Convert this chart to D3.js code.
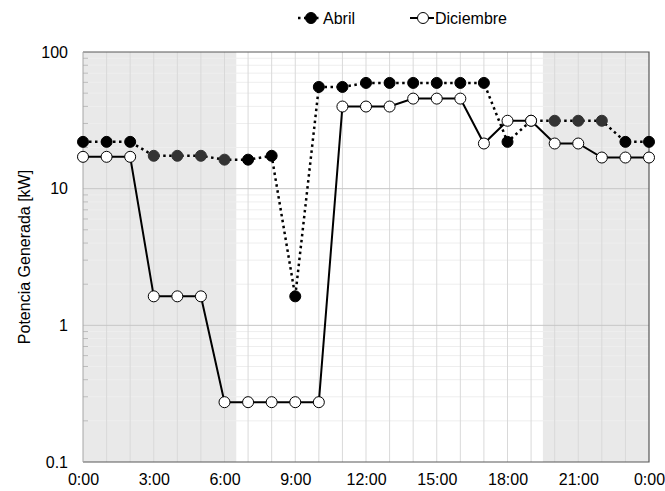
<!DOCTYPE html>
<html>
<head>
<meta charset="utf-8">
<script src="https://cdn.jsdelivr.net/npm/d3@7"></script>
<style>
  body { margin: 0; background: #fff; }
  text { font-family: "Liberation Sans", Arial, sans-serif; fill: #000; }
</style>
</head>
<body>
<div id="chart"></div>
<script>
/*** DATA ***/
const hours = d3.range(0, 25);
const xTickHours = [0, 3, 6, 9, 12, 15, 18, 21, 24];
const xTickLabels = ['0:00', '3:00', '6:00', '9:00', '12:00', '15:00', '18:00', '21:00', '0:00'];
const yTicks = [0.1, 1, 10, 100];
const yTickLabels = ['0.1', '1', '10', '100'];
const abril = [22, 22, 22, 17.4, 17.4, 17.4, 16.3, 16.3, 17.4, 1.63, 55.5, 55.5, 59.4, 59.4, 59.4,
               59.4, 59.4, 59.4, 22, 31.4, 31.4, 31.4, 31.4, 22, 22];
const diciembre = [17.1, 17.1, 17.1, 1.63, 1.63, 1.63, 0.274, 0.274, 0.274, 0.274, 0.274, 39.9, 39.9,
                   39.9, 45.6, 45.6, 45.6, 21.4, 31.4, 31.4, 21.4, 21.4, 16.9, 16.9, 16.9];
const nightBands = [[0, 6.5], [19.5, 24]];
const seriesNames = ['Abril', 'Diciembre'];

/*** GRAPH ***/
const width = 665, height = 491;
const margin = {top: 52, right: 16, bottom: 29, left: 83};
const w = width - margin.left - margin.right;
const h = height - margin.top - margin.bottom;

const svg = d3.select('#chart').append('svg')
    .attr('width', width).attr('height', height);
const g = svg.append('g').attr('transform', 'translate(' + margin.left + ',' + margin.top + ')');

const x = d3.scaleLinear().domain([0, 24]).range([0, w]);
const y = d3.scaleLog().domain([0.1, 100]).range([h, 0]);

// shaded night bands
g.selectAll('.band').data(nightBands).enter().append('rect')
    .attr('x', d => x(d[0])).attr('width', d => x(d[1]) - x(d[0]))
    .attr('y', 0).attr('height', h)
    .attr('fill', '#e9e9e9');

// minor horizontal grid
const minor = [];
[0.1, 1, 10].forEach(dec => { for (let k = 2; k <= 9; k++) minor.push(dec * k); });
g.selectAll('.minor').data(minor).enter().append('line')
    .attr('x1', 0).attr('x2', w)
    .attr('y1', d => y(d)).attr('y2', d => y(d))
    .attr('stroke', '#eeeeee').attr('stroke-width', 1);
g.selectAll('.minortick').data(minor).enter().append('line')
    .attr('x1', 0).attr('x2', 5)
    .attr('y1', d => y(d)).attr('y2', d => y(d))
    .attr('stroke', '#bbbbbb').attr('stroke-width', 1);

// vertical grid
g.selectAll('.vgrid').data(hours.slice(1, 24)).enter().append('line')
    .attr('x1', d => x(d)).attr('x2', d => x(d))
    .attr('y1', 0).attr('y2', h)
    .attr('stroke', '#d9d9d9').attr('stroke-width', 1);

// major horizontal grid
g.selectAll('.major').data([1, 10]).enter().append('line')
    .attr('x1', 0).attr('x2', w)
    .attr('y1', d => y(d)).attr('y2', d => y(d))
    .attr('stroke', '#c6c6c6').attr('stroke-width', 1);

// frame
g.append('path')
    .attr('d', 'M0,0H' + w + 'V' + h + 'H0')
    .attr('fill', 'none').attr('stroke', '#595959').attr('stroke-width', 1.2);
g.append('line').attr('x1', 0).attr('x2', 0).attr('y1', 0).attr('y2', h)
    .attr('stroke', '#a6a6a6').attr('stroke-width', 1);

// axes
const xAxis = g.append('g').attr('transform', 'translate(0,' + h + ')')
    .call(d3.axisBottom(x).tickValues(xTickHours).tickSize(0).tickPadding(12)
        .tickFormat((d, i) => xTickLabels[i]));
const yAxis = g.append('g')
    .call(d3.axisLeft(y).tickValues(yTicks).tickSize(0).tickPadding(15)
        .tickFormat((d, i) => yTickLabels[i]));
[xAxis, yAxis].forEach(a => {
    a.select('.domain').remove();
    a.selectAll('text').attr('font-size', 16).style('font-family', '"Liberation Sans", Arial, sans-serif');
});

svg.append('text')
    .attr('transform', 'translate(24,' + (margin.top + h / 2) + ') rotate(-90)')
    .attr('text-anchor', 'middle').attr('dominant-baseline', 'central')
    .attr('font-size', 16)
    .text('Potencia Generada [kW]');

// lines
const line = d3.line().x((d, i) => x(hours[i])).y(d => y(d));
g.append('path').datum(abril).attr('d', line)
    .attr('fill', 'none').attr('stroke', '#000').attr('stroke-width', 2.5)
    .attr('stroke-dasharray', '2.5,3.5');
g.append('path').datum(diciembre).attr('d', line)
    .attr('fill', 'none').attr('stroke', '#000').attr('stroke-width', 2);

// markers (Abril points inside the night bands are drawn a little lighter)
const greyDot = hr => (hr >= 3 && hr <= 6) || (hr >= 19 && hr <= 22);
g.selectAll('.dotA').data(abril).enter().append('circle')
    .attr('cx', (d, i) => x(hours[i])).attr('cy', d => y(d)).attr('r', 5.5)
    .attr('fill', (d, i) => greyDot(hours[i]) ? '#333333' : '#000')
    .attr('stroke', (d, i) => greyDot(hours[i]) ? '#333333' : '#000');
g.selectAll('.dotD').data(diciembre).enter().append('circle')
    .attr('cx', (d, i) => x(hours[i])).attr('cy', d => y(d)).attr('r', 5.5)
    .attr('fill', '#fff').attr('stroke', '#000').attr('stroke-width', 1);

// legend
const legend = svg.append('g').attr('transform', 'translate(0,18)');
const legItems = [{x: 298, dash: '2.5,3.5', fill: '#000'}, {x: 410, dash: null, fill: '#fff'}];
legItems.forEach((it, i) => {
    legend.append('line').attr('x1', it.x).attr('x2', it.x + 24).attr('y1', 0).attr('y2', 0)
        .attr('stroke', '#000').attr('stroke-width', i === 0 ? 2.5 : 2)
        .attr('stroke-dasharray', it.dash);
    legend.append('circle').attr('cx', it.x + 13).attr('cy', 0).attr('r', 5.5)
        .attr('fill', it.fill).attr('stroke', '#000');
    legend.append('text').attr('x', it.x + 25).attr('y', 0)
        .attr('dominant-baseline', 'central').attr('font-size', 16)
        .text(seriesNames[i]);
});
</script>
</body>
</html>
